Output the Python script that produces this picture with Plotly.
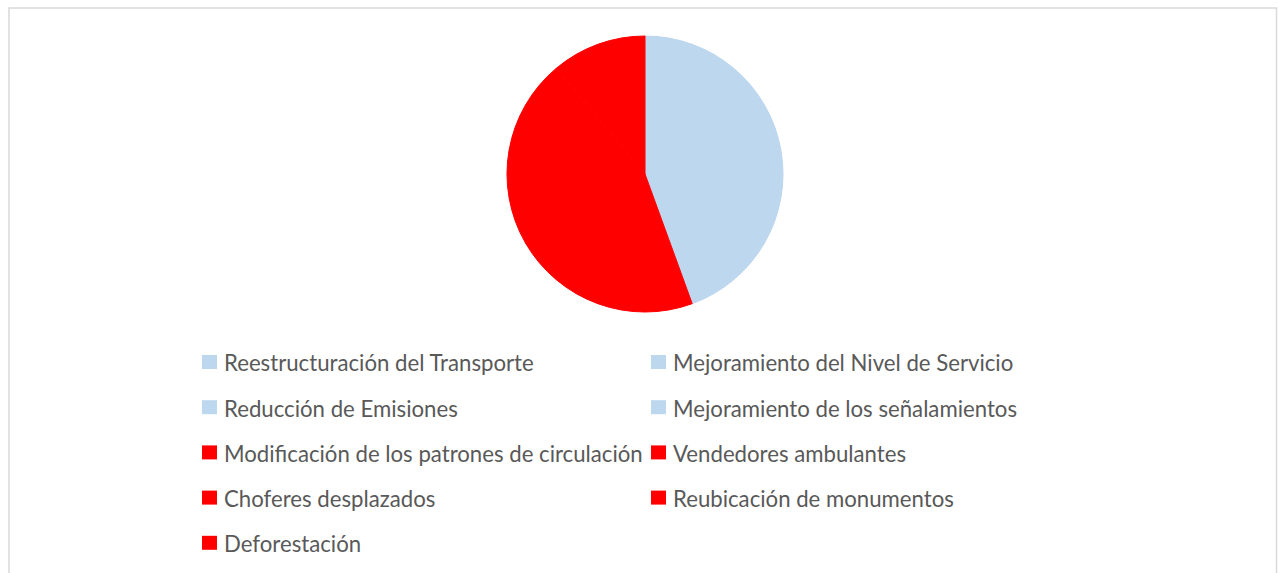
import plotly.graph_objects as go

W, H = 1278, 573

labels = [
    "Reestructuración del Transporte",
    "Mejoramiento del Nivel de Servicio",
    "Reducción de Emisiones",
    "Mejoramiento de los señalamientos",
    "Modificación de los patrones de circulación",
    "Vendedores ambulantes",
    "Choferes desplazados",
    "Reubicación de monumentos",
    "Deforestación",
]
values = [1, 1, 1, 1, 1, 1, 1, 1, 1]
colors = ["#BDD7EE"] * 4 + ["#FF0000"] * 5

TEXT_COLOR = "#595959"
FONT = "Lato"


def px_x(x):
    return x / W


def px_y(y):
    return 1 - y / H


fig = go.Figure()

# pie centred at (645, 174) px with radius 138 px
cx, cy, r = 645, 174, 138
fig.add_trace(go.Pie(
    labels=labels,
    values=values,
    sort=False,
    direction="clockwise",
    rotation=0,
    marker=dict(colors=colors, line=dict(color=colors, width=1)),
    textinfo="none",
    hoverinfo="label+percent",
    domain=dict(x=[px_x(cx - r), px_x(cx + r)], y=[px_y(cy + r), px_y(cy - r)]),
    showlegend=False,
))

shapes = []
annotations = []

# chart area frame
shapes.append(dict(
    type="rect", xref="paper", yref="paper",
    x0=px_x(9), x1=px_x(1276.5), y0=px_y(590), y1=px_y(8),
    line=dict(color="#D9D9D9", width=1.5), fillcolor="rgba(0,0,0,0)",
))

# two-column legend under the pie
col_x = [202, 651]
row_y0, row_dy = 362, 45.2
sq_w, sq_h = 15, 14
for i, (lab, col) in enumerate(zip(labels, colors)):
    row, c = divmod(i, 2)
    x = col_x[c]
    y = row_y0 + row * row_dy
    shapes.append(dict(
        type="rect", xref="paper", yref="paper",
        x0=px_x(x), x1=px_x(x + sq_w),
        y0=px_y(y + sq_h / 2), y1=px_y(y - sq_h / 2),
        line=dict(width=0), fillcolor=col,
    ))
    annotations.append(dict(
        x=px_x(x + sq_w + 5), y=px_y(y + 1), xref="paper", yref="paper",
        text=lab, showarrow=False, xanchor="left", yanchor="middle",
        font=dict(family=FONT, size=22.2, color=TEXT_COLOR),
    ))

fig.update_layout(
    width=W, height=H,
    margin=dict(l=0, r=0, t=0, b=0),
    paper_bgcolor="white",
    plot_bgcolor="white",
    shapes=shapes,
    annotations=annotations,
    showlegend=False,
)

fig.write_html("out.html")
